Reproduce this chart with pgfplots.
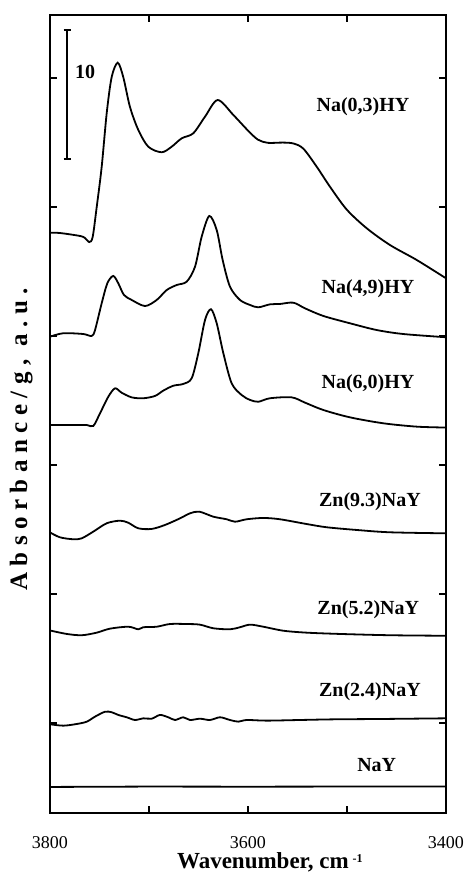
\documentclass[border=0pt]{standalone}
\usepackage{fontspec}
\setmainfont{Liberation Serif}
\usepackage{pgfplots}
\pgfplotsset{compat=1.18}

\begin{document}
\begin{tikzpicture}
\useasboundingbox (0,0) rectangle (231.5pt,442.5pt);
\begin{axis}[
  at={(25pt,36pt)}, anchor=south west,
  scale only axis,
  width=198pt, height=399pt,
  x dir=reverse,
  xmin=3400, xmax=3800,
  ymin=0, ymax=61.86,
  xtick={3800,3600,3400},
  minor xtick={3700,3500},
  ytick={7,17,27,37,47,57},
  yticklabels={},
  tick align=inside,
  major tick length=3.5pt,
  minor tick length=3.5pt,
  tick style={line width=0.9pt, black},
  axis line style={line width=1pt},
  /pgf/number format/assume math mode=true,
  /pgf/number format/set thousands separator={},
  xticklabel style={font=\fontsize{9}{10}\selectfont, yshift=-8pt},
  xlabel={\textbf{Wavenumber, cm}\,\raisebox{0.5ex}{\textbf{\fontsize{6}{7}\selectfont -1}}},
  xlabel style={font=\fontsize{11.5}{13}\selectfont, at={(axis description cs:0.555,-0.069)}, anchor=base},
  ylabel={\textbf{\addfontfeature{LetterSpace=26}Absorbance/g, a.u.}},
  ylabel style={font=\fontsize{12.5}{14}\selectfont, at={(axis description cs:-0.073,0.472)}, anchor=center},
  clip=true,
]
% Na(0,3)HY
\addplot[black, line width=0.9pt, smooth, tension=0.5] coordinates {
(3800,44.98) (3789.9,44.96) (3769.7,44.73) (3764.6,44.57) (3760.3,44.26)
(3756.9,44.65) (3752.8,46.98) (3747.8,50.08) (3742.7,54.26) (3737.7,57.05)
(3731.6,58.16) (3726.0,57.05) (3719.2,54.73) (3710.8,52.95) (3700.7,51.65)
(3687.2,51.22) (3677.1,51.65) (3667.0,52.30) (3655.3,52.69) (3643.4,53.98)
(3630.6,55.27) (3614.8,54.11) (3600,52.90) (3590,52.20) (3580,51.95)
(3565,51.97) (3554.2,51.90) (3544.1,51.50) (3530.6,50.10) (3517.2,48.55)
(3500.3,46.78) (3480.1,45.33) (3456.6,44.03) (3429.6,42.87) (3400,41.45)
};
% Na(4,9)HY
\addplot[black, line width=0.9pt, smooth, tension=0.5] coordinates {
(3800,36.92) (3786.6,37.19) (3766.4,37.13) (3757.9,36.98) (3754.5,37.44)
(3747.8,39.51) (3742.1,41.06) (3736.1,41.63) (3731.0,41.06) (3725.3,40.16)
(3717.5,39.77) (3704.0,39.30) (3692.2,39.77) (3682.1,40.54) (3672.0,40.93)
(3661.9,41.19) (3653.5,42.35) (3646.8,44.67) (3639.1,46.28) (3631.6,45.19)
(3625.6,42.87) (3618.2,40.80) (3608.1,39.77) (3597.9,39.38) (3589.6,39.20)
(3577.8,39.43) (3567.7,39.46) (3554.2,39.56) (3542.4,39.12) (3523.9,38.53)
(3496.9,37.96) (3470.0,37.44) (3443.1,37.13) (3400,36.88)
};
% Na(6,0)HY
\addplot[black, line width=0.9pt, smooth, tension=0.5] coordinates {
(3800,30.08) (3779.8,30.08) (3762.9,30.08) (3756.3,30.00) (3749.5,30.98)
(3741.1,32.27) (3734.3,32.92) (3727.6,32.58) (3717.5,32.22) (3705.8,32.15)
(3693.9,32.33) (3685.6,32.74) (3675.5,33.12) (3665.4,33.26) (3656.9,33.70)
(3650.2,35.64) (3643.4,38.22) (3637.4,39.05) (3631.6,37.96) (3624.9,35.64)
(3616.5,33.31) (3606.4,32.40) (3597.9,32.02) (3589.6,31.88) (3577.8,32.15)
(3555.9,32.22) (3542.4,31.81) (3523.9,31.24) (3496.9,30.67) (3463.3,30.21)
(3429.6,29.95) (3400,29.88)
};
% Zn(9.3)NaY
\addplot[black, line width=0.9pt, smooth, tension=0.5] coordinates {
(3800,21.75) (3789.9,21.37) (3776.5,21.22) (3768.0,21.29) (3756.3,21.81)
(3742.7,22.46) (3729.3,22.66) (3720.9,22.50) (3710.8,22.07) (3697.3,22.02)
(3683.8,22.33) (3668.7,22.84) (3658.6,23.23) (3649.2,23.36) (3635.0,22.97)
(3621.5,22.77) (3613.1,22.58) (3601.3,22.77) (3584.5,22.87) (3567.7,22.77)
(3540.7,22.40) (3520.5,22.15) (3490.2,21.94) (3456.6,21.76) (3400,21.68)
};
% Zn(5.2)NaY
\addplot[black, line width=0.9pt, smooth, tension=0.5] coordinates {
(3800,14.15) (3783.1,13.88) (3768.0,13.78) (3752.8,13.98) (3739.4,14.29)
(3720.9,14.44) (3710.8,14.24) (3705.8,14.40) (3692.2,14.44) (3678.8,14.65)
(3661.9,14.65) (3648.5,14.60) (3635.0,14.32) (3618.2,14.24) (3608.1,14.40)
(3597.9,14.60) (3584.5,14.44) (3564.3,14.13) (3540.7,13.98) (3507.1,13.88)
(3456.6,13.78) (3400,13.74)
};
% Zn(2.4)NaY
\addplot[black, line width=0.9pt, smooth, tension=0.5] coordinates {
(3800,6.88) (3786.6,6.77) (3773.0,6.90) (3762.9,7.08) (3754.5,7.47)
(3744.4,7.85) (3737.7,7.81) (3731.0,7.60) (3722.5,7.42) (3714.1,7.21)
(3705.8,7.34) (3697.3,7.31) (3688.9,7.60) (3680.5,7.42) (3673.7,7.21)
(3665.4,7.42) (3658.6,7.21) (3648.5,7.31) (3638.4,7.21) (3628.3,7.42)
(3618.2,7.21) (3609.8,7.08) (3601.3,7.21) (3581.1,7.16) (3547.5,7.21)
(3513.8,7.26) (3463.3,7.29) (3400,7.34)
};
% NaY
\addplot[black, line width=0.9pt] coordinates {
(3800,2.02) (3700,2.05) (3600,2.04) (3500,2.05) (3400,2.06)
};

% scale bar
\draw[line width=0.7pt] (axis cs:3782.8,50.7) -- (axis cs:3782.8,60.7);
\draw[line width=0.7pt] ([xshift=-1.75pt]axis cs:3782.8,50.7) -- ([xshift=1.75pt]axis cs:3782.8,50.7);
\draw[line width=0.7pt] ([xshift=-1.75pt]axis cs:3782.8,60.7) -- ([xshift=1.75pt]axis cs:3782.8,60.7);
\node[font=\bfseries\fontsize{10}{12}\selectfont] at (axis cs:3764.6,57.46) {10};

% sample labels
\begin{scope}[every node/.style={font=\bfseries\fontsize{10}{12}\selectfont}]
\node at (axis cs:3483.8,54.73) {Na(0,3)HY};
\node at (axis cs:3478.8,40.62) {Na(4,9)HY};
\node at (axis cs:3478.8,33.31) {Na(6,0)HY};
\node at (axis cs:3476.8,24.13) {Zn(9.3)NaY};
\node at (axis cs:3478.5,15.74) {Zn(5.2)NaY};
\node at (axis cs:3476.8,9.40) {Zn(2.4)NaY};
\node at (axis cs:3470.0,3.72) {NaY};
\end{scope}
\end{axis}
\end{tikzpicture}
\end{document}
